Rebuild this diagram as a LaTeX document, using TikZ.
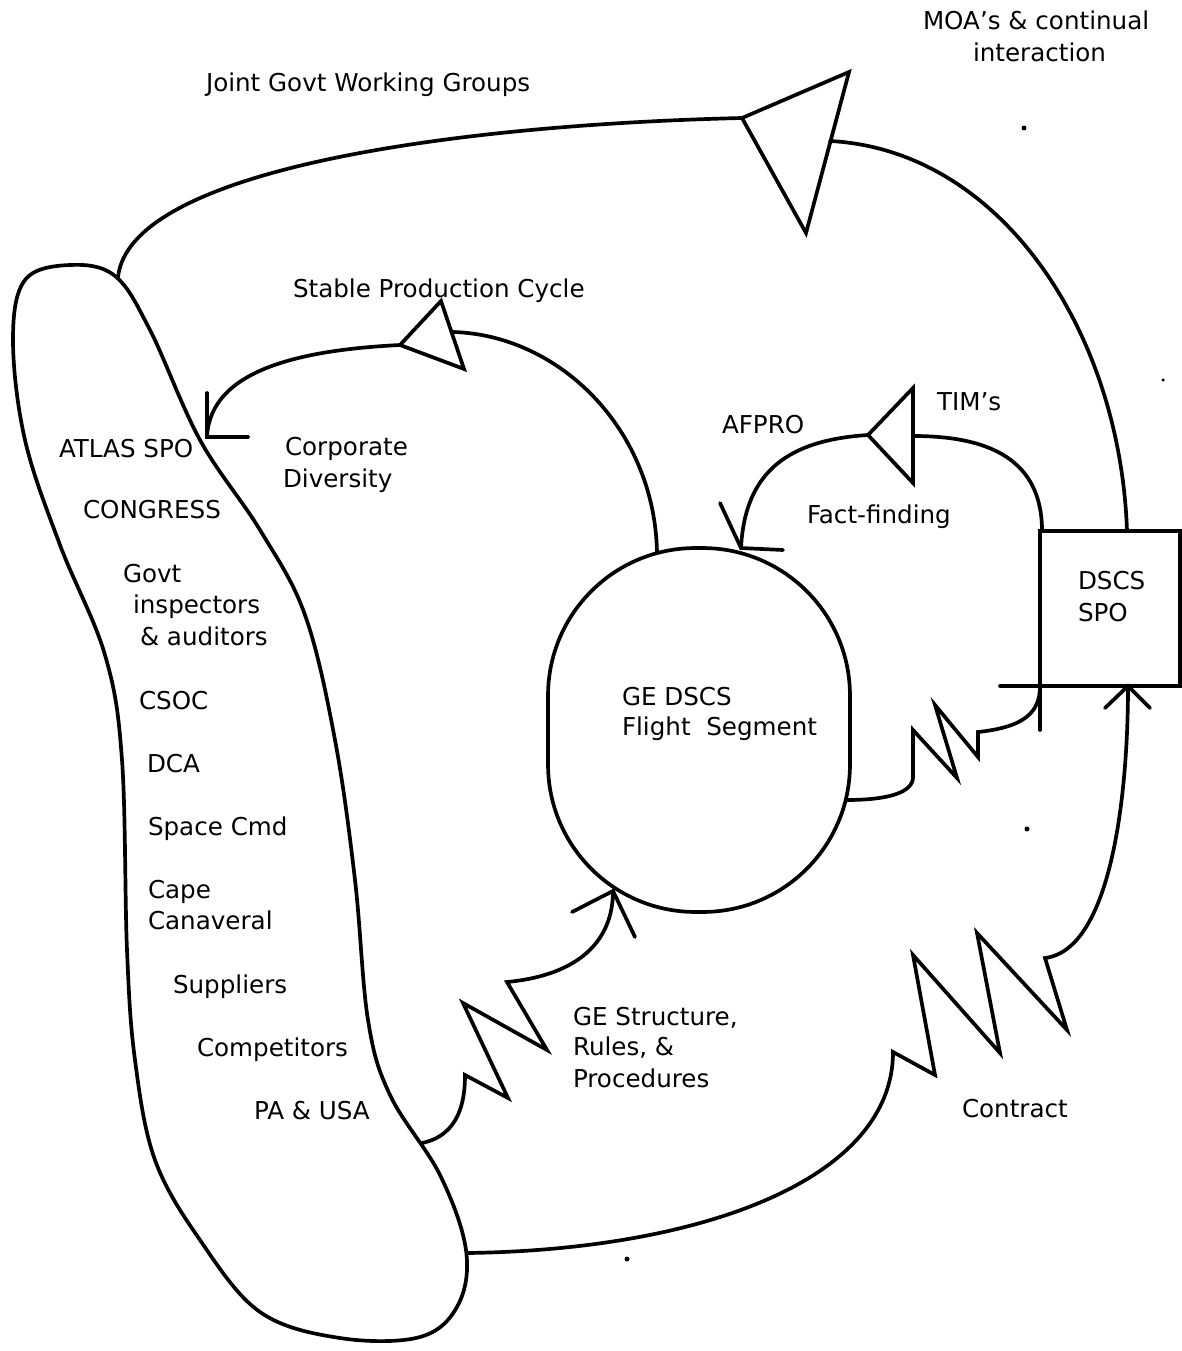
\documentclass[tikz,border=0pt]{standalone}
\usepackage{fontspec}
\setmainfont{DejaVu Sans}
\usetikzlibrary{calc}
\begin{document}
\begin{tikzpicture}[x=0.02cm,y=-0.02cm,
  ln/.style={line width=2.1pt, line join=miter, line cap=round},
  lbl/.style={anchor=base west, inner sep=0pt, outer sep=0pt, font=\fontsize{14}{18}\selectfont},
  shapebox/.style={draw, line width=2.1pt, inner sep=0pt, outer sep=0pt}]
\path[fill=white] (0,0) rectangle (1182,1351);
\useasboundingbox (0,0) rectangle (1182,1351);

% ---- main shapes
\node[shapebox, minimum width=6.04cm, minimum height=7.28cm, rounded corners=2.95cm] (ge) at (699,730) {};
\node[shapebox, minimum width=2.8cm, minimum height=3.1cm] (dscs) at (1110,608.5) {};

% environment blob
\draw[ln] plot[smooth cycle, tension=0.6] coordinates {
 (70,265) (115,276) (150,330) (200,440) (260,530) (305,615) (335,740)
 (355,880) (368,1020) (390,1095) (440,1175) (466,1250) (458,1305)
 (420,1337) (340,1338) (260,1312) (200,1240) (155,1160) (135,1060)
 (127,950) (122,760) (105,655) (60,545) (25,440) (13,340) (25,280)};
\coordinate (envtop) at (118,277);
\coordinate (envstr) at (422,1143);
\coordinate (envcon) at (467,1253);

% ---- labels
\node[lbl] (tjoint) at (206,92) {Joint Govt Working Groups};
\node[lbl] (tmoa1) at (923,30) {MOA's \& continual};
\node[lbl] (tmoa2) at (973,62) {interaction};
\node[lbl] (tstable) at (293,297) {Stable Production Cycle};
\node[lbl] (tcorp1) at (285,455) {Corporate};
\node[lbl] (tcorp2) at (283,487) {Diversity};
\node[lbl] (tatlas) at (59,457) {ATLAS SPO};
\node[lbl] (tcong) at (83,518) {CONGRESS};
\node[lbl] (tgovt1) at (123,582) {Govt};
\node[lbl] (tgovt2) at (133,613) {inspectors};
\node[lbl] (tgovt3) at (140,645) {\& auditors};
\node[lbl] (tcsoc) at (139,709) {CSOC};
\node[lbl] (tdca) at (147,772) {DCA};
\node[lbl] (tspace) at (148,835) {Space Cmd};
\node[lbl] (tcape1) at (148,898) {Cape};
\node[lbl] (tcape2) at (148,929) {Canaveral};
\node[lbl] (tsupp) at (173,993) {Suppliers};
\node[lbl] (tcomp) at (197,1056) {Competitors};
\node[lbl] (tpa) at (254,1119) {PA \& USA};
\node[lbl] (ttims) at (937,410) {TIM's};
\node[lbl] (tafpro) at (722,433) {AFPRO};
\node[lbl] (tfact) at (807,523) {Fact-finding};
\node[lbl] (tdscs1) at (1078,589) {DSCS};
\node[lbl] (tdscs2) at (1078,621) {SPO};
\node[lbl] (tge1) at (622,705) {GE DSCS};
\node[lbl] (tge2) at (622,735) {Flight\ \ Segment};
\node[lbl] (tstr1) at (573,1025) {GE Structure,};
\node[lbl] (tstr2) at (573,1055) {Rules, \&};
\node[lbl] (tstr3) at (573,1087) {Procedures};
\node[lbl] (tcon) at (962,1117) {Contract};

% ---- outer loop: MOA's / Joint Govt Working Groups
\coordinate (va1) at (742,118);
\coordinate (vb1) at (849,72);
\coordinate (vc1) at (806,233);
\coordinate (ve1) at (830,141);
\draw[ln] ([xshift=0.34cm]dscs.north) .. controls (1120,330) and (1000,150) .. (ve1);
\draw[ln] (va1) -- (vb1) -- (vc1) -- cycle;
\draw[ln] (va1) .. controls (450,125) and (130,170) .. (envtop);

% ---- Stable Production Cycle loop
\coordinate (va2) at (400,345);
\coordinate (vb2) at (441,301);
\coordinate (vc2) at (464,369);
\coordinate (ve2) at (453,332);
\coordinate (tip2) at (207,437);
\draw[ln] ([xshift=-0.84cm,yshift=-0.1cm]ge.north) .. controls (655,430) and (560,335) .. (ve2);
\draw[ln] (va2) -- (vb2) -- (vc2) -- cycle;
\draw[ln] (va2) .. controls (300,350) and (210,370) .. (tip2);
\draw[ln] ($(tip2)+(0,-44)$) -- (tip2) -- ++(41,0);

% ---- Fact-finding loop
\coordinate (va3) at (913,388);
\coordinate (vb3) at (913,483);
\coordinate (vc3) at (868,435);
\coordinate (tip3) at (741,548);
\draw[ln] ([xshift=0.04cm]dscs.north west) .. controls (1042,460) and (990,436) .. (913,436);
\draw[ln] (va3) -- (vb3) -- (vc3) -- cycle;
\draw[ln] (vc3) .. controls (790,440) and (745,470) .. (tip3);
\draw[ln] ($(tip3)+(-21,-45)$) -- (tip3) -- ++(42,2);

% ---- GE -> DSCS SPO (zigzag with tick)
\coordinate (gese) at (846,800);
\draw[ln] (gese) .. controls (890,800) and (913,792) .. (913,777) -- (913,730) -- (957,778)
  -- (935,705) -- (978,757) -- (978,732) .. controls (1025,727) and (1040,712) .. (dscs.south west);
\draw[ln] ([xshift=-0.8cm]dscs.south west) -- (dscs.south west) -- ++(0,44);

% ---- Contract
\coordinate (tipc) at ([xshift=0.36cm]dscs.south);
\draw[ln] (envcon) .. controls (700,1250) and (893,1180) .. (893,1052) -- (935,1075) -- (913,955)
  -- (1000,1053) -- (977,933) -- (1067,1030) -- (1045,958) .. controls (1110,950) and (1128,800) .. (tipc);
\draw[ln] ($(tipc)+(-23,22)$) -- (tipc) -- ++(22,22);

% ---- GE Structure, Rules, & Procedures
\coordinate (tipg) at (613,891);
\draw[ln] (envstr) .. controls (460,1135) and (465,1100) .. (465,1075) -- (508,1098) -- (463,1003)
  -- (547,1050) -- (507,982) .. controls (580,975) and (613,940) .. (tipg);
\draw[ln] ($(tipg)+(-41,21)$) -- (tipg) -- ++(22,46);

% ---- specks
\fill (1024,128) circle[radius=0.05cm];
\fill (1027,829) circle[radius=0.05cm];
\fill (627,1259) circle[radius=0.05cm];
\fill (1163,380) circle[radius=0.035cm];
\end{tikzpicture}
\end{document}
